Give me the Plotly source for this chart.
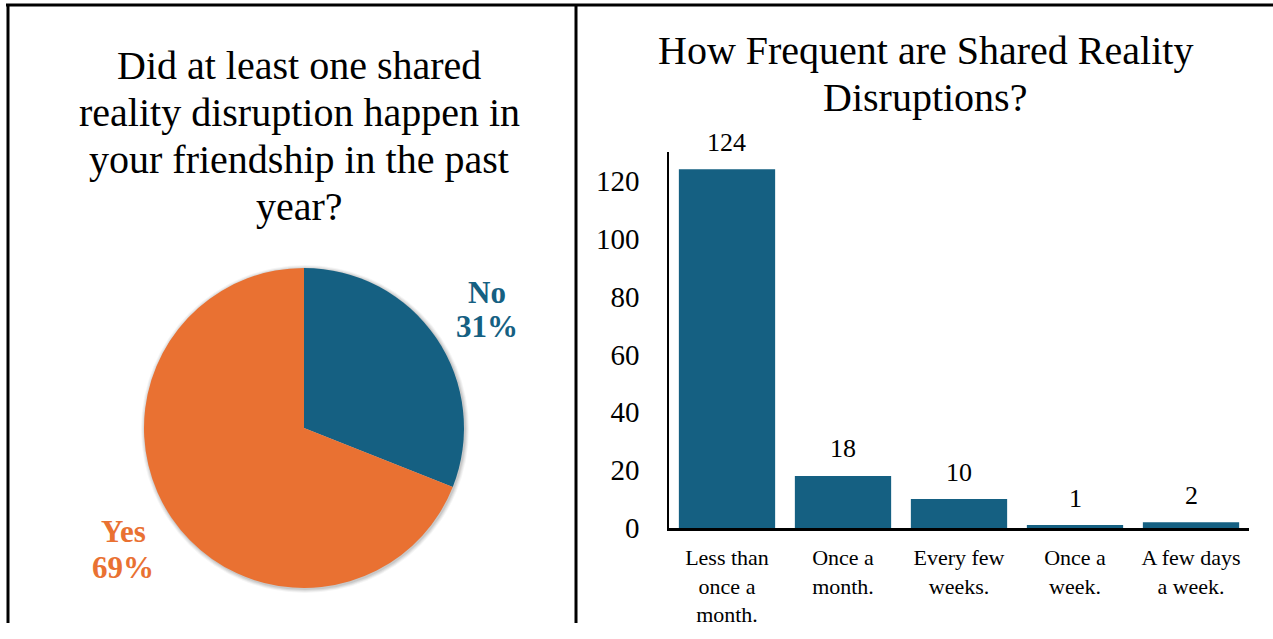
import plotly.graph_objects as go

W, H = 1273, 639
# height of the drawing area that the page actually gets
H_VIEW = 623

# Pie data
pie_labels = ["No", "Yes"]
pie_values = [31, 69]
pie_colors = ["#156082", "#E97132"]

# Bar data
bar_categories = ["Less than<br>once a<br>month.", "Once a<br>month.", "Every few<br>weeks.",
                  "Once a<br>week.", "A few days<br>a week."]
bar_values = [124, 18, 10, 1, 2]
y_ticks = [0, 20, 40, 60, 80, 100, 120]

left_title = ["Did at least one shared", "reality disruption happen in",
              "your friendship in the past", "year?"]
right_title = ["How Frequent are Shared Reality", "Disruptions?"]

SERIF = "Liberation Serif, Times New Roman, serif"


def xp(px):
    return px / W


def yp(py):
    return 1 - py / H_VIEW


fig = go.Figure()

fig.add_trace(go.Pie(
    labels=pie_labels, values=pie_values, sort=False, direction="clockwise",
    rotation=0, marker=dict(colors=pie_colors, line=dict(width=0)),
    textinfo="none", hoverinfo="label+percent", showlegend=False,
    domain=dict(x=[xp(144), xp(464)], y=[yp(588), yp(268)]),
))

fig.add_trace(go.Bar(
    x=list(range(len(bar_values))), y=bar_values, marker=dict(color="#156082", line=dict(width=0)),
    showlegend=False, xaxis="x", yaxis="y",
))

annotations = []

# Panel titles, one annotation per line
for i, line in enumerate(left_title):
    annotations.append(dict(text=line, x=xp(299), y=yp(65 + i * 47), xref="paper", yref="paper",
                            showarrow=False, xanchor="center", yanchor="middle",
                            font=dict(family=SERIF, size=40, color="black")))
for i, line in enumerate(right_title):
    annotations.append(dict(text=line, x=xp(925), y=yp(51 + i * 47), xref="paper", yref="paper",
                            showarrow=False, xanchor="center", yanchor="middle",
                            font=dict(family=SERIF, size=40, color="black")))

# Pie slice labels
total = sum(pie_values)
label_pos = {"No": (487, 292, 326), "Yes": (123, 531, 567)}
for name, val, col in zip(pie_labels, pie_values, pie_colors):
    cx, y1, y2 = label_pos[name]
    pct = round(100 * val / total)
    annotations.append(dict(text="<b>%s</b>" % name, x=xp(cx), y=yp(y1), xref="paper", yref="paper",
                            showarrow=False, xanchor="center", yanchor="middle",
                            font=dict(family=SERIF, size=31, color=col)))
    annotations.append(dict(text="<b>%d%%</b>" % pct, x=xp(cx), y=yp(y2), xref="paper", yref="paper",
                            showarrow=False, xanchor="center", yanchor="middle",
                            font=dict(family=SERIF, size=31, color=col)))

# Bar value labels
for i, v in enumerate(bar_values):
    annotations.append(dict(text=str(v), x=i, y=v, xref="x", yref="y", showarrow=False,
                            xanchor="center", yanchor="middle", yshift=27,
                            font=dict(family=SERIF, size=26, color="black")))

shapes = []
# soft shadow behind the pie
cx, cy, r = 304, 428, 160
for k, a in [(4, 0.04), (3, 0.05), (2, 0.06), (1, 0.08)]:
    shapes.append(dict(type="circle", xref="paper", yref="paper",
                       x0=xp(cx - r - k + 1), x1=xp(cx + r + k + 1),
                       y0=yp(cy + r + k + 1), y1=yp(cy - r - k + 1),
                       fillcolor="rgba(0,0,0,%g)" % a, line=dict(width=0), layer="below"))
# panel borders
border = dict(color="black", width=3)
shapes.append(dict(type="line", xref="paper", yref="paper", x0=xp(6), x1=1, y0=yp(5), y1=yp(5), line=border))
shapes.append(dict(type="line", xref="paper", yref="paper", x0=xp(8), x1=xp(8), y0=yp(4), y1=0, line=border))
shapes.append(dict(type="line", xref="paper", yref="paper", x0=xp(576), x1=xp(576), y0=yp(4), y1=0, line=border))

fig.update_layout(
    width=W, height=H, autosize=False, margin=dict(l=0, r=0, t=0, b=0),
    paper_bgcolor="white", plot_bgcolor="white",
    bargap=0.17,
    xaxis=dict(domain=[xp(669), xp(1249)], range=[-0.5, len(bar_values) - 0.5],
               tickvals=list(range(len(bar_values))), ticktext=bar_categories,
               showline=True, linecolor="black", linewidth=2.5, showgrid=False, zeroline=False,
               ticks="", ticklabelstandoff=8,
               tickfont=dict(family=SERIF, size=22, color="black")),
    yaxis=dict(domain=[yp(528), yp(152)], range=[0, 130], tickvals=y_ticks,
               showline=True, linecolor="black", linewidth=1.5, showgrid=False, zeroline=False,
               ticks="", ticklabelstandoff=22,
               tickfont=dict(family=SERIF, size=29, color="black")),
    annotations=annotations, shapes=shapes,
)

fig.write_html("out.html")
